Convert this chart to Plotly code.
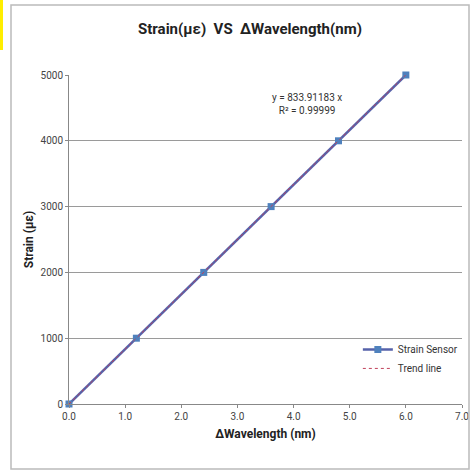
import plotly.graph_objects as go

# values
wavelength_shift = [0.0, 1.2, 2.4, 3.6, 4.8, 6.0]
strain = [0, 1000, 2000, 3000, 4000, 5000]

trend_slope = 833.91183
trend_r2 = 0.99999
trend_x = [0.0, 6.0]
trend_y = [trend_slope * v for v in trend_x]

FONT = "Roboto, Arial, sans-serif"

fig = go.Figure()

fig.add_trace(go.Scatter(
    x=wavelength_shift, y=strain,
    mode="lines+markers",
    name="Strain Sensor",
    line=dict(color="#5662AA", width=2.5),
    marker=dict(symbol="square", size=7, color="#4F81BD"),
    cliponaxis=False,
))

fig.add_trace(go.Scatter(
    x=trend_x, y=trend_y,
    mode="lines",
    name="Trend line",
    line=dict(color="#C0405A", width=1, dash="dot"),
    cliponaxis=False,
))

# fit equation label
fig.add_annotation(
    xref="paper", yref="paper",
    x=(307 - 69) / 393, y=(404 - 104) / 329,
    showarrow=False, align="center", yanchor="middle",
    text=f"y = {trend_slope:.5f} x<br>R² = {trend_r2:.5f}",
    font=dict(family=FONT, size=10, color="#333333"),
)

fig.update_layout(
    width=476, height=474,
    margin=dict(l=69, r=14, t=75, b=70, autoexpand=False),
    paper_bgcolor="white", plot_bgcolor="white",
    font=dict(family=FONT, size=10, color="#333333"),
    title=dict(text="<b>Strain(με)  VS  ΔWavelength(nm)</b>",
               x=250 / 476, xanchor="center", y=1 - 29 / 474, yanchor="middle",
               font=dict(family=FONT, size=15, color="#222222")),
    xaxis=dict(
        range=[0, 7], tickvals=[0, 1, 2, 3, 4, 5, 6, 7], tickformat=".1f",
        showgrid=False, zeroline=False, showline=True, linecolor="#888888",
        ticks="outside", ticklen=3, tickcolor="#888888",
        title=dict(text="<b>ΔWavelength (nm)</b>", font=dict(size=12, color="#222222"), standoff=8),
        tickfont=dict(size=10, color="#444444"),
    ),
    yaxis=dict(
        range=[0, 5000], tickvals=[0, 1000, 2000, 3000, 4000, 5000],
        showgrid=True, gridcolor="#9a9a9a", gridwidth=1, zeroline=False,
        showline=True, linecolor="#888888", ticks="outside", ticklen=3, tickcolor="#888888",
        title=dict(text="<b>Strain (με)</b>", font=dict(size=12, color="#222222"), standoff=4),
        tickfont=dict(size=10, color="#444444"),
    ),
    legend=dict(x=0.735, y=0.21, xanchor="left", yanchor="top",
                bgcolor="rgba(0,0,0,0)", font=dict(size=10, color="#333333"),
                itemwidth=30, tracegroupgap=4),
    showlegend=True,
)

# outer chart border and the yellow edge at top-left
fig.add_shape(type="rect", xref="paper", yref="paper",
              x0=-58 / 393, x1=1 + 7 / 393, y0=-65 / 329, y1=1 + 70 / 329,
              line=dict(color="#bbbbbb", width=1.5))
fig.add_shape(type="rect", xref="paper", yref="paper",
              x0=-69 / 393, x1=-66 / 393, y0=1 + 25 / 329, y1=1 + 75 / 329,
              line=dict(width=0), fillcolor="#ffee00")

fig.write_html("out.html", config={"displayModeBar": False},
               post_script="document.body.style.margin='0';")
